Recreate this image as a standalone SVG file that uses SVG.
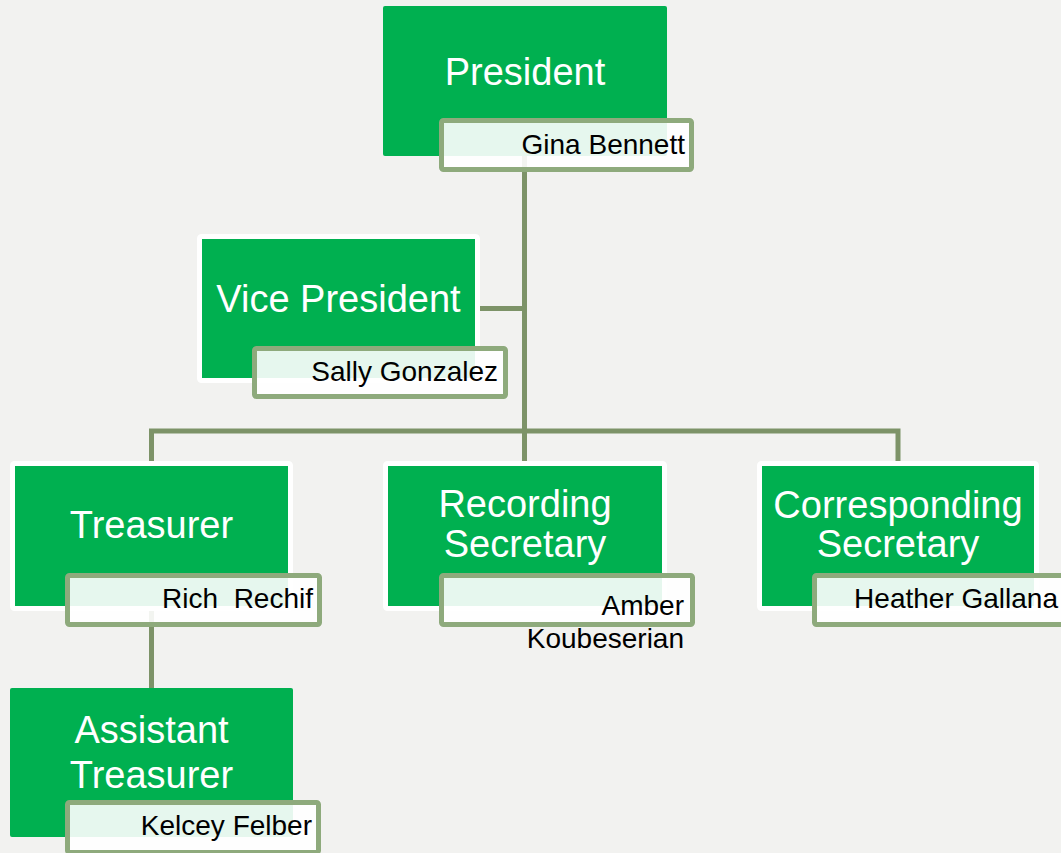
<svg xmlns="http://www.w3.org/2000/svg" width="1061" height="853" viewBox="0 0 1061 853">
<style>
.bg{fill:#f2f2f0}
.box{fill:#00b050}
.boxw{fill:#00b050;stroke:#ffffff;stroke-width:5}
.name{fill:#ffffff;fill-opacity:0.9;stroke:#8eaa7c;stroke-width:5}
.title{font-family:"Liberation Sans",Arial,sans-serif;font-size:38px;fill:#ffffff;text-anchor:middle}
.nm{font-family:"Liberation Sans",Arial,sans-serif;font-size:28px;fill:#000000;text-anchor:end;white-space:pre}
.conn{fill:none;stroke:#7d9368;stroke-width:5}
</style>
<rect class="bg" x="0" y="0" width="1061" height="853"/>
<g id="connectors">
<path class="conn" d="M524.5 156 V463"/>
<path class="conn" d="M478 308.5 H524.5"/>
<path class="conn" d="M151.5 463 V431 H898 V463"/>
<path class="conn" d="M151.5 611 V688"/>
</g>
<g id="president">
<rect class="box" x="383" y="6" width="284" height="150" rx="2"/>
<text class="title" x="525" y="85">President</text>
<rect class="name" x="441.5" y="120.5" width="250" height="49" rx="2"/>
<text class="nm" x="685" y="154">Gina Bennett</text>
</g>
<g id="vice-president">
<rect class="boxw" x="199.5" y="236.5" width="278" height="144" rx="2"/>
<text class="title" x="338.5" y="312">Vice President</text>
<rect class="name" x="254.5" y="348.5" width="251" height="48" rx="2"/>
<text class="nm" x="498" y="381">Sally Gonzalez</text>
</g>
<g id="treasurer">
<rect class="boxw" x="12.5" y="463.5" width="278" height="145" rx="2"/>
<text class="title" x="151.5" y="538">Treasurer</text>
<rect class="name" x="67.5" y="575.5" width="252" height="49" rx="2"/>
<text class="nm" x="313" y="608">Rich  Rechif</text>
</g>
<g id="recording-secretary">
<rect class="boxw" x="385.5" y="463.5" width="279" height="145" rx="2"/>
<text class="title" x="525" y="517">Recording</text>
<text class="title" x="525" y="557">Secretary</text>
<rect class="name" x="441.5" y="575.5" width="251" height="49" rx="2"/>
<text class="nm" x="684" y="615">Amber</text>
<text class="nm" x="684" y="648">Koubeserian</text>
</g>
<g id="corresponding-secretary">
<rect class="boxw" x="759.5" y="463.5" width="277" height="145" rx="2"/>
<text class="title" x="898" y="518">Corresponding</text>
<text class="title" x="898" y="557">Secretary</text>
<rect class="name" x="814.5" y="575.5" width="252" height="49" rx="2"/>
<text class="nm" x="1058" y="608">Heather Gallana</text>
</g>
<g id="assistant-treasurer">
<rect class="box" x="10" y="688" width="283" height="149" rx="2"/>
<text class="title" x="151.5" y="743">Assistant</text>
<text class="title" x="151.5" y="788">Treasurer</text>
<rect class="name" x="67.5" y="802.5" width="251" height="50" rx="2"/>
<text class="nm" x="312" y="835">Kelcey Felber</text>
</g>
</svg>
